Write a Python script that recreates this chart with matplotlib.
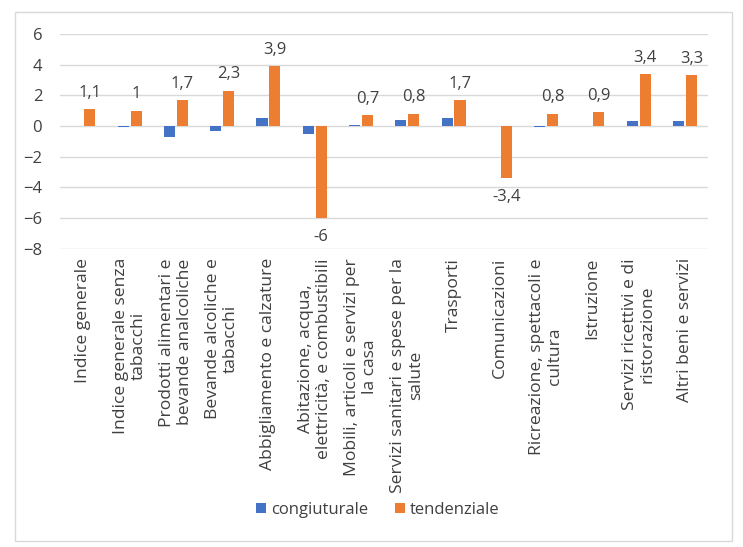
import matplotlib
matplotlib.use("Agg")
import matplotlib.pyplot as plt
import numpy as np
from matplotlib.patches import Rectangle

plt.rcParams['font.family'] = ['Open Sans', 'DejaVu Sans']

# Dati
categorie = [
    "Indice generale",
    "Indice generale senza\ntabacchi",
    "Prodotti alimentari e\nbevande analcoliche",
    "Bevande alcoliche e\ntabacchi",
    "Abbigliamento e calzature",
    "Abitazione, acqua,\nelettricità, e combustibili",
    "Mobili, articoli e servizi per\nla casa",
    "Servizi sanitari e spese per la\nsalute",
    "Trasporti",
    "Comunicazioni",
    "Ricreazione, spettacoli e\ncultura",
    "Istruzione",
    "Servizi ricettivi e di\nristorazione",
    "Altri beni e servizi",
]
congiuturale = [0.0, -0.05, -0.7, -0.3, 0.5, -0.5, 0.05, 0.4, 0.5, 0.0, -0.05, 0.0, 0.3, 0.3]
tendenziale = [1.1, 1.0, 1.7, 2.3, 3.9, -6.0, 0.7, 0.8, 1.7, -3.4, 0.8, 0.9, 3.4, 3.3]

BLU = '#4472C4'
ARANCIO = '#ED7D31'
TESTO = '#404040'

fig = plt.figure(figsize=(7.43, 5.47), dpi=100)
ax = fig.add_axes([0.081, 0.545, 0.872, 0.393])

x = np.arange(len(categorie))
w = 0.24
off = 0.14
ax.bar(x - off, congiuturale, w, color=BLU, label='congiuturale', zorder=3)
ax.bar(x + off, tendenziale, w, color=ARANCIO, label='tendenziale', zorder=3)

# Etichette dati solo per la serie tendenziale
for xi, v in zip(x + off, tendenziale):
    testo = f"{v:g}".replace('.', ',')
    if v >= 0:
        ax.annotate(testo, (xi, v), xytext=(0, 6), textcoords='offset points',
                    ha='center', va='bottom', fontsize=12, color=TESTO)
    else:
        ax.annotate(testo, (xi, v), xytext=(0, -8), textcoords='offset points',
                    ha='center', va='top', fontsize=12, color=TESTO)

ax.set_xlim(-0.5, len(categorie) - 0.5)
ax.set_ylim(-8, 6)
ax.set_yticks(np.arange(-8, 7, 2))
ax.yaxis.grid(True, color='#D9D9D9', linewidth=1, zorder=0)
ax.tick_params(axis='y', length=0, labelsize=12, labelcolor=TESTO, pad=13)
ax.tick_params(axis='x', length=0)
for s in ax.spines.values():
    s.set_visible(False)

ax.set_xticks(x)
ax.set_xticklabels([])
for xi, lab in zip(x, categorie):
    ax.text(xi, -8.6, lab, rotation=90, ha='center', va='top',
            multialignment='center', fontsize=12.6, color=TESTO,
            linespacing=1.15)

ax.legend(loc='center', bbox_to_anchor=(0.508, 0.068), bbox_transform=fig.transFigure,
          ncol=2, frameon=False, fontsize=12, handlelength=0.6, handleheight=0.6,
          columnspacing=1.6, handletextpad=0.3, labelcolor=TESTO)

# cornice del grafico
fig.add_artist(Rectangle((0.0202, 0.011), 0.965, 0.967, transform=fig.transFigure,
                         fill=False, edgecolor='#D9D9D9', linewidth=1))

fig.savefig('out.png', dpi=100)
